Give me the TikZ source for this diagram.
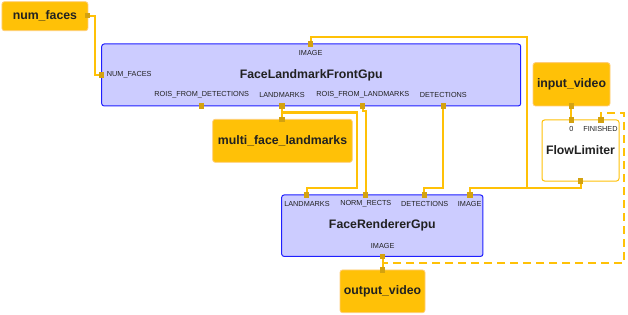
\documentclass[tikz,border=0pt]{standalone}
\usepackage{fontspec}
\setmainfont{Liberation Sans}
\usetikzlibrary{backgrounds}

\definecolor{amber}{HTML}{FFC107}
\definecolor{amberedge}{HTML}{FFCD7A}
\definecolor{portgold}{HTML}{D4A20F}
\definecolor{calcfill}{HTML}{CCCCFF}
\definecolor{calcedge}{HTML}{1F1FFF}
\definecolor{ink}{HTML}{212121}

\tikzset{
  title/.style={font=\fontsize{12.3}{14}\selectfont\bfseries, text=ink},
  streambox/.style={title, draw=amberedge, fill=amber, rounded corners=2.5pt, line width=0.8pt},
  calcbox/.style={title, draw=calcedge, fill=calcfill, rounded corners=2.5pt, line width=1pt},
  limitbox/.style={title, draw=amber, fill=white, rounded corners=2.5pt, line width=1pt},
  port/.style={fill=portgold, minimum size=5.5pt, inner sep=0pt},
  tag/.style={font=\fontsize{7.3}{8}\selectfont, text=ink, inner sep=0pt},
  wire/.style={draw=amber, line width=2.2pt},
  loopwire/.style={wire, line width=2.5pt, dash pattern=on 8pt off 5pt},
}

\begin{document}
\begin{tikzpicture}[x=1pt, y=-1pt]
    \useasboundingbox (0,0) rectangle (628,315);

    % streams
    \node[streambox, minimum width=86pt, minimum height=29pt] (numfaces) at (44.9,16.2) {num\_faces};
    \node[streambox, minimum width=139.6pt, minimum height=43pt] (multilm) at (282.5,140.8) {multi\_face\_landmarks};
    \node[streambox, minimum width=77pt, minimum height=43.3pt] (inputvideo) at (571.5,84.3) {input\_video};
    \node[streambox, minimum width=85pt, minimum height=42.7pt] (outputvideo) at (382.5,291.3) {output\_video};

    % calculators
    \node[calcbox, minimum width=419pt, minimum height=62pt] (landmark) at (311.2,75) {FaceLandmarkFrontGpu};
    \node[calcbox, minimum width=201.3pt, minimum height=61.5pt] (renderer) at (382.3,225.7) {FaceRendererGpu};
    \node[limitbox, minimum width=77pt, minimum height=61pt] (limiter) at (580.5,150.5) {FlowLimiter};

    % port labels
    \node[tag] at (310.7,53.3) {IMAGE};
    \node[tag, anchor=west] at (106.7,75) {NUM\_FACES};
    \node[tag] at (201.7,95) {ROIS\_FROM\_DETECTIONS};
    \node[tag] at (282,95) {LANDMARKS};
    \node[tag] at (362.8,95) {ROIS\_FROM\_LANDMARKS};
    \node[tag] at (443.3,95) {DETECTIONS};
    \node[tag] at (307,204) {LANDMARKS};
    \node[tag] at (365.8,204) {NORM\_RECTS};
    \node[tag] at (424.7,204) {DETECTIONS};
    \node[tag] at (469.7,204) {IMAGE};
    \node[tag] at (382.7,246) {IMAGE};
    \node[tag] at (571.3,129) {0};
    \node[tag] at (600.5,129) {FINISHED};

    % ports
    \node[port] (nf-out) at (87.7,15.7) {};
    \node[port] (lm-numfaces) at (101.7,75) {};
    \node[port] (lm-image) at (310.7,44) {};
    \node[port] (lm-roidet) at (201.7,106) {};
    \node[port] (lm-landmarks) at (282,106) {};
    \node[port] (lm-roilm) at (362.7,106) {};
    \node[port] (lm-det) at (443.3,106) {};
    \node[port] (mfl-in) at (282,119.3) {};
    \node[port] (iv-out) at (571.3,106) {};
    \node[port] (lim-in) at (571.3,120) {};
    \node[port] (lim-fin) at (601,120) {};
    \node[port] (lim-out) at (580.7,181) {};
    \node[port] (fr-landmarks) at (306.7,195) {};
    \node[port] (fr-norm) at (365.7,195) {};
    \node[port] (fr-det) at (424.3,195) {};
    \node[port] (fr-image) at (470,195) {};
    \node[port] (fr-out) at (382.7,256.5) {};
    \node[port] (ov-in) at (382.7,270) {};

    \coordinate (split) at (527,188);

    % wires
    \begin{scope}[on background layer]
        \draw[wire] (nf-out.center) -- ++(7.3,0) |- (lm-numfaces.center);
        \draw[wire] (lm-landmarks.center) -- (mfl-in.center);
        \draw[wire] (lm-landmarks.center) -- ++(0,6.5) -| (357,188) -| (fr-landmarks.center);
        \draw[wire] (lm-roilm.center) -- ++(0,5) -| (fr-norm.center);
        \draw[wire] (lm-det.center) -- ++(0,82) -| (fr-det.center);
        \draw[wire] (lim-out.center) -- ++(0,7) -- (split) |- (310.7,37) -- (lm-image.center);
        \draw[wire] (split) -| (fr-image.center);
        \draw[wire] (iv-out.center) -- (lim-in.center);
        \draw[wire] (fr-out.center) -- (ov-in.center);
        \draw[loopwire] (lim-fin.center) -- ++(0,-7) -| (624,263) -- (fr-out.center |- 0,263);
    \end{scope}
\end{tikzpicture}
\end{document}
